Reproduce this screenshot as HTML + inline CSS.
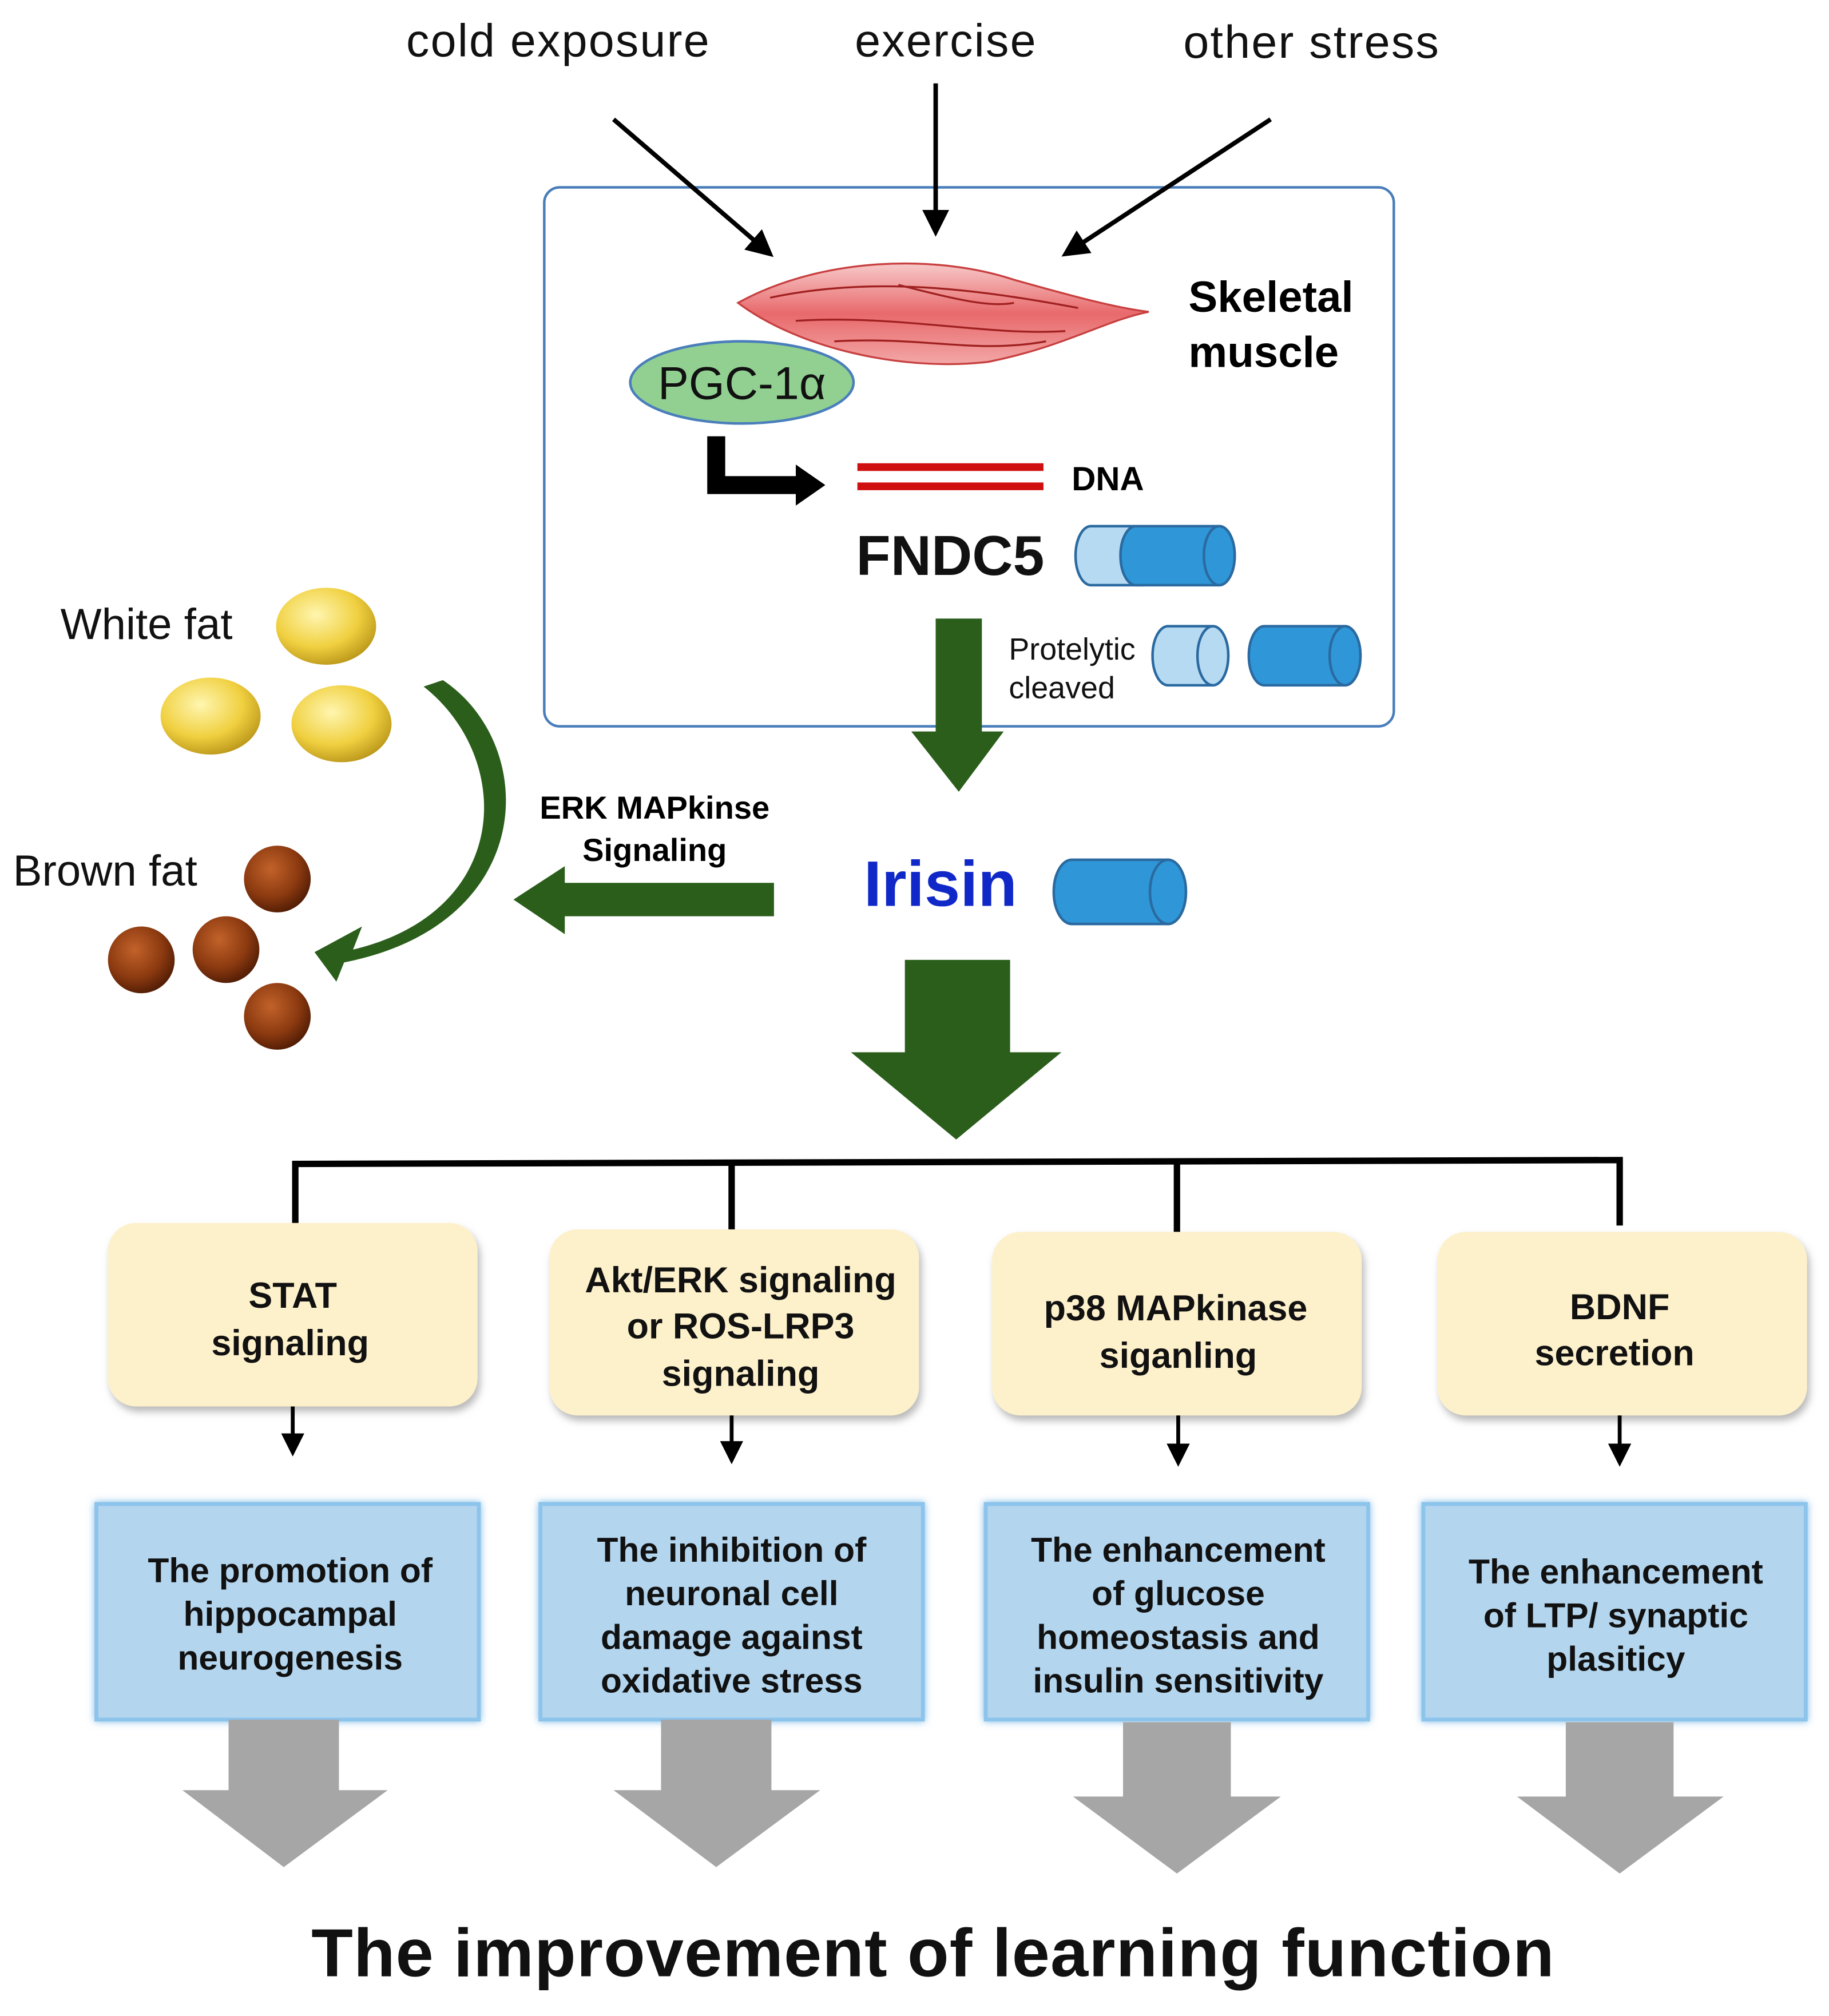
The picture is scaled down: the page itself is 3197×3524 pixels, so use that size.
<!DOCTYPE html>
<html><head><meta charset="utf-8"><style>html,body{margin:0;padding:0;background:#fff}svg{display:block}text{font-family:"Liberation Sans",Arial,sans-serif}</style></head><body>
<svg width="3197" height="3524" viewBox="0 0 1425 1571" xmlns="http://www.w3.org/2000/svg">
<defs>
<marker id="ah" markerWidth="6" markerHeight="6" refX="5" refY="3" orient="auto" markerUnits="strokeWidth"><path d="M0,0 L6,3 L0,6 z" fill="#000"/></marker>
<linearGradient id="mus" x1="0" y1="0" x2="0" y2="1"><stop offset="0" stop-color="#f7c9c9"/><stop offset="0.5" stop-color="#e8696b"/><stop offset="1" stop-color="#f3a7a7"/></linearGradient>
<radialGradient id="yel" cx="0.4" cy="0.35" r="0.7"><stop offset="0" stop-color="#fff6b0"/><stop offset="0.6" stop-color="#f0d040"/><stop offset="1" stop-color="#b89418"/></radialGradient>
<radialGradient id="brn" cx="0.4" cy="0.35" r="0.7"><stop offset="0" stop-color="#c2622a"/><stop offset="0.6" stop-color="#8c3a10"/><stop offset="1" stop-color="#4c1a04"/></radialGradient>
<filter id="sh" x="-10%" y="-10%" width="130%" height="130%"><feDropShadow dx="2" dy="4" stdDeviation="3" flood-color="#888" flood-opacity="0.6"/></filter>
<filter id="gl" x="-10%" y="-10%" width="120%" height="120%"><feDropShadow dx="0" dy="0" stdDeviation="3" flood-color="#6fb2e4" flood-opacity="0.9"/></filter>
</defs>
<g font-size="36" fill="#111" text-anchor="middle" letter-spacing="1">
<text x="435" y="44">cold exposure</text><text x="737" y="44">exercise</text><text x="1022" y="45">other stress</text></g>
<rect x="424" y="146" width="662" height="420" rx="12" fill="#fff" stroke="#4a7ebb" stroke-width="2"/>
<g stroke="#000" stroke-width="3.5" fill="none" marker-end="url(#ah)">
<line x1="478" y1="93" x2="600" y2="198"/><line x1="729" y1="65" x2="729" y2="181"/><line x1="990" y1="93" x2="830" y2="198"/></g>
<path d="M575,236 C640,200 730,198 790,218 C840,232 870,240 895,243 C860,250 830,270 770,282 C700,290 620,270 575,236 Z" fill="url(#mus)" stroke="#c84040" stroke-width="1.5"/>
<g stroke="#a02020" stroke-width="1.5" fill="none"><path d="M600,232 C680,215 760,225 840,240"/><path d="M620,250 C700,245 770,262 830,258"/><path d="M650,266 C720,262 760,276 815,266"/><path d="M700,222 C740,232 770,240 790,236"/></g>
<text x="926" y="243" font-size="34" font-weight="bold">Skeletal</text><text x="926" y="286" font-size="34" font-weight="bold">muscle</text>
<ellipse cx="578" cy="298" rx="87" ry="32" fill="#92d092" stroke="#4a7ebb" stroke-width="2"/>
<text x="578" y="311" font-size="36" text-anchor="middle" fill="#111">PGC-1α</text>
<path d="M551,340 L565,340 L565,371 L620,371 L620,362 L643,378 L620,394 L620,385 L551,385 Z" fill="#000"/>
<g stroke="#d01010" stroke-width="6"><line x1="668" y1="364" x2="813" y2="364"/><line x1="668" y1="379" x2="813" y2="379"/></g>
<text x="835" y="382" font-size="26" font-weight="bold">DNA</text>
<text x="667" y="448" font-size="44" font-weight="bold" fill="#111">FNDC5</text>
<g stroke="#2a6aa0" stroke-width="2">
<path d="M850,410 L890,410 L890,456 L850,456 A12,23 0 0 1 850,410 Z" fill="#b7daf3"/>
<path d="M885,410 L950,410 A12,23 0 0 1 950,456 L885,456 A12,23 0 0 1 885,410 Z" fill="#2f96d8"/>
<ellipse cx="950" cy="433" rx="12" ry="23" fill="#2f96d8"/>
<path d="M910,488 L945,488 A12,23 0 0 1 945,534 L910,534 A12,23 0 0 1 910,488 Z" fill="#b7daf3"/><ellipse cx="945" cy="511" rx="12" ry="23" fill="#b7daf3"/>
<path d="M985,488 L1048,488 A12,23 0 0 1 1048,534 L985,534 A12,23 0 0 1 985,488 Z" fill="#2f96d8"/><ellipse cx="1048" cy="511" rx="12" ry="23" fill="#2f96d8"/>
<path d="M835,670 L910,670 A14,25 0 0 1 910,720 L835,720 A14,25 0 0 1 835,670 Z" fill="#2f96d8"/><ellipse cx="910" cy="695" rx="14" ry="25" fill="#2f96d8"/>
</g>
<text x="786" y="514" font-size="24" fill="#111">Protelytic</text><text x="786" y="544" font-size="24" fill="#111">cleaved</text>
<path d="M729,482 L765,482 L765,570 L782,570 L747,617 L710,570 L729,570 Z" fill="#2a5e1a"/>
<text x="47" y="498" font-size="34" fill="#111">White fat</text>
<ellipse cx="254" cy="488" rx="39" ry="30" fill="url(#yel)"/><ellipse cx="164" cy="558" rx="39" ry="30" fill="url(#yel)"/><ellipse cx="266" cy="564" rx="39" ry="30" fill="url(#yel)"/>
<text x="10" y="690" font-size="34" fill="#111">Brown fat</text>
<circle cx="216" cy="685" r="26" fill="url(#brn)"/><circle cx="110" cy="748" r="26" fill="url(#brn)"/><circle cx="176" cy="740" r="26" fill="url(#brn)"/><circle cx="216" cy="792" r="26" fill="url(#brn)"/>
<path d="M330,535 C400,590 400,710 275,740 L282,722 L245,742 L262,765 L268,750 C420,720 420,580 345,530 Z" fill="#2a5e1a"/>
<text x="510" y="638" font-size="25" font-weight="bold" text-anchor="middle">ERK MAPkinse</text><text x="510" y="671" font-size="25" font-weight="bold" text-anchor="middle">Signaling</text>
<path d="M603,688 L440,688 L440,675 L400,701 L440,728 L440,714 L603,714 Z" fill="#2a5e1a"/>
<text x="673" y="706" font-size="50" font-weight="bold" fill="#1028c8">Irisin</text>
<path d="M705,748 L787,748 L787,820 L827,820 L745,888 L663,820 L705,820 Z" fill="#2a5e1a"/>
<g stroke="#000" stroke-width="5" fill="none"><path d="M230,955 L230,907 L1262,904 L1262,955"/><line x1="570" y1="906" x2="570" y2="958"/><line x1="917" y1="905" x2="917" y2="960"/></g>
<g fill="#fdf1cb" filter="url(#sh)">
<rect x="84" y="953" width="288" height="143" rx="22"/><rect x="428" y="958" width="288" height="145" rx="22"/><rect x="773" y="960" width="288" height="143" rx="22"/><rect x="1120" y="960" width="288" height="143" rx="22"/></g>
<g font-size="28" font-weight="bold" text-anchor="middle" fill="#111">
<text x="228" y="1019">STAT</text><text x="226" y="1056">signaling</text>
<text x="577" y="1007">Akt/ERK signaling</text><text x="577" y="1043">or  ROS-LRP3</text><text x="577" y="1080">signaling</text>
<text x="916" y="1029">p38 MAPkinase</text><text x="918" y="1066">siganling</text>
<text x="1262" y="1028">BDNF</text><text x="1258" y="1064">secretion</text></g>
<g stroke="#000" stroke-width="3" marker-end="url(#ah)"><line x1="228" y1="1096" x2="228" y2="1132"/><line x1="570" y1="1103" x2="570" y2="1138"/><line x1="918" y1="1103" x2="918" y2="1140"/><line x1="1262" y1="1103" x2="1262" y2="1140"/></g>
<g fill="#b3d5ee" stroke="#8cc4ec" stroke-width="3" filter="url(#gl)">
<rect x="75" y="1172" width="298" height="168"/><rect x="421" y="1172" width="298" height="168"/><rect x="768" y="1172" width="298" height="168"/><rect x="1109" y="1172" width="298" height="168"/></g>
<g font-size="27" font-weight="bold" text-anchor="middle" fill="#111">
<text x="226" y="1233">The promotion of</text><text x="226" y="1267">hippocampal</text><text x="226" y="1301">neurogenesis</text>
<text x="570" y="1217">The inhibition of</text><text x="570" y="1251">neuronal cell</text><text x="570" y="1285">damage against</text><text x="570" y="1319">oxidative stress</text>
<text x="918" y="1217">The enhancement</text><text x="918" y="1251">of glucose</text><text x="918" y="1285">homeostasis and</text><text x="918" y="1319">insulin sensitivity</text>
<text x="1259" y="1234">The enhancement</text><text x="1259" y="1268">of LTP/ synaptic</text><text x="1259" y="1302">plasiticy</text></g>
<g fill="#a6a6a6">
<path d="M178,1340 L264,1340 L264,1395 L302,1395 L221,1455 L142,1395 L178,1395 Z"/>
<path d="M515,1340 L601,1340 L601,1395 L639,1395 L558,1455 L478,1395 L515,1395 Z"/>
<path d="M875,1342 L959,1342 L959,1400 L998,1400 L917,1460 L836,1400 L875,1400 Z"/>
<path d="M1220,1342 L1304,1342 L1304,1400 L1343,1400 L1262,1460 L1182,1400 L1220,1400 Z"/></g>
<text x="727" y="1540" font-size="53" font-weight="bold" text-anchor="middle" fill="#111" letter-spacing="0.5">The improvement of learning function</text>
</svg>
</body></html>
